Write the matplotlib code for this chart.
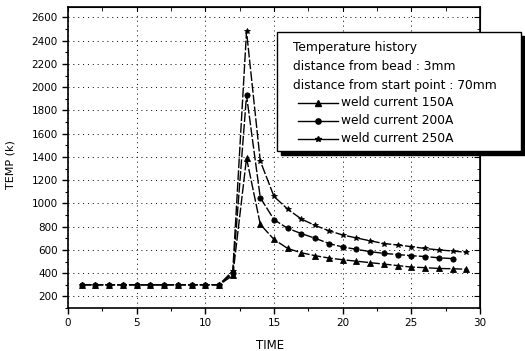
import numpy as np
import matplotlib
matplotlib.use("Agg")
import matplotlib.pyplot as plt
from matplotlib.lines import Line2D
from matplotlib.patches import Rectangle
from matplotlib.ticker import MultipleLocator

plt.rcParams["font.family"] = ["DejaVu Sans"]

# data
time_150 = list(range(1, 30))
temp_150 = [300, 300, 300, 300, 300, 300, 300, 300, 300, 300, 300,
            380, 1390, 820, 690, 612, 575, 550, 530, 515, 503, 490,
            478, 465, 452, 447, 440, 438, 433]

time_200 = list(range(1, 29))
temp_200 = [300, 300, 300, 300, 300, 300, 300, 300, 300, 300, 300,
            400, 1930, 1050, 860, 785, 740, 700, 655, 625, 605, 585,
            570, 560, 550, 543, 532, 525]

time_250 = list(range(1, 30))
temp_250 = [300, 300, 300, 300, 300, 300, 300, 300, 300, 300, 300,
            420, 2480, 1365, 1060, 950, 865, 810, 765, 728, 703, 678,
            655, 642, 628, 612, 600, 590, 580]

legend_title = ["Temperature history",
                "distance from bead : 3mm",
                "distance from start point : 70mm"]
series_labels = ["weld current 150A", "weld current 200A", "weld current 250A"]
series_markers = ["^", "o", "*"]

W, H = 525, 351


def fx(px):
    return px / W


def fy(py):
    return 1 - py / H


fig = plt.figure(figsize=(W / 100, H / 100), dpi=100)
ax = fig.add_axes([fx(68), fy(308), fx(480) - fx(68), fy(7) - fy(308)])

# curves
dash = (0, (7, 1.5))
for t, v, m in zip([time_150, time_200, time_250],
                   [temp_150, temp_200, temp_250], series_markers):
    ax.plot(t, v, color="black", linewidth=1.0, linestyle=dash,
            marker=m, markersize=3.8, markeredgewidth=0.6)

ax.set_xlim(0, 30)
ax.set_ylim(100, 2690)
ax.xaxis.set_major_locator(MultipleLocator(5))
ax.xaxis.set_minor_locator(MultipleLocator(2.5))
ax.yaxis.set_major_locator(MultipleLocator(200))
ax.yaxis.set_minor_locator(MultipleLocator(100))
ax.yaxis.set_major_formatter(lambda v, p: f"{v:.0f}" if v >= 200 else "")
ax.tick_params(which="major", direction="out", length=4, width=1.0,
               labelsize=7.5)
ax.tick_params(which="minor", direction="out", length=2.5, width=0.8)
for s in ax.spines.values():
    s.set_linewidth(1.2)

# ticks pointing inward on top and right
top = ax.secondary_xaxis("top")
top.xaxis.set_major_locator(MultipleLocator(5))
top.xaxis.set_minor_locator(MultipleLocator(2.5))
top.tick_params(which="both", direction="in", labeltop=False, length=3)
right = ax.secondary_yaxis("right")
right.yaxis.set_major_locator(MultipleLocator(200))
right.yaxis.set_minor_locator(MultipleLocator(100))
right.tick_params(which="major", direction="in", labelright=False, length=4)
right.tick_params(which="minor", direction="in", labelright=False, length=2.5)

ax.grid(True, which="major", color="black", linewidth=0.7,
        linestyle=(0, (1, 4)))

ax.set_xlabel("TIME", fontsize=8.5)
ax.xaxis.set_label_coords(0.49, -0.126)
ax.xaxis.label.set_verticalalignment("center")
ax.set_ylabel("TEMP (k)", fontsize=8)
ax.yaxis.set_label_coords(-0.127, 0.475)

# legend box with shadow, drawn by hand
bx0, by0, bx1, by1 = 277, 32, 521, 151
fig.add_artist(Rectangle((fx(bx0 + 4), fy(by1 + 4)), fx(bx1 - bx0), fy(by0) - fy(by1),
                         transform=fig.transFigure, facecolor="black",
                         edgecolor="black", zorder=5))
fig.add_artist(Rectangle((fx(bx0), fy(by1)), fx(bx1 - bx0), fy(by0) - fy(by1),
                         transform=fig.transFigure, facecolor="white",
                         edgecolor="black", linewidth=1.0, zorder=6))

for i, txt in enumerate(legend_title):
    fig.text(fx(293), fy(48 + 18.5 * i), txt, fontsize=8.8, va="center",
             ha="left", zorder=7)

for i, (lab, m) in enumerate(zip(series_labels, series_markers)):
    yy = fy(103 + 18 * i)
    fig.add_artist(Line2D([fx(298), fx(338)], [yy, yy], transform=fig.transFigure,
                          color="black", linewidth=1.0, zorder=7))
    fig.add_artist(Line2D([fx(318)], [yy], transform=fig.transFigure,
                          color="black", marker=m, markersize=3.8, zorder=7))
    fig.text(fx(341), yy, lab, fontsize=8.8, va="center", ha="left", zorder=7)

fig.savefig("out.png", dpi=100)
